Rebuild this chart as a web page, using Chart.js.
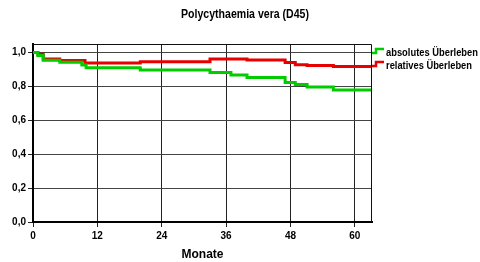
<!DOCTYPE html>
<html>
<head>
<meta charset="utf-8">
<script src="https://cdn.jsdelivr.net/npm/chart.js@4/dist/chart.umd.min.js"></script>
<style>
  html, body { margin: 0; padding: 0; background: #fff; }
  #wrap { width: 480px; height: 262px; }
</style>
</head>
<body>
<div id="wrap"><canvas id="kmChart" width="480" height="262"></canvas></div>
<script>
// Kaplan-Meier steps (months, survival)
const absTimes = [0, 0.9, 1.9, 5.0, 9.1, 9.9, 20.0, 33.0, 36.9, 39.9, 47.0, 48.9, 51.1, 56.0, 63.2];
const absValues = [1.0, 0.982, 0.954, 0.942, 0.926, 0.910, 0.897, 0.882, 0.867, 0.853, 0.823, 0.811, 0.796, 0.779, 0.779];

const relTimes = [0, 0.9, 1.9, 5.0, 9.7, 20.0, 33.0, 39.9, 47.0, 48.9, 51.1, 56.0, 63.2];
const relValues = [1.0, 0.99, 0.962, 0.952, 0.938, 0.946, 0.962, 0.956, 0.941, 0.928, 0.923, 0.917, 0.917];

const xTicks = [0, 12, 24, 36, 48, 60];
const yTicks = [0, 0.2, 0.4, 0.6, 0.8, 1.0];

const titleText = 'Polycythaemia vera (D45)';
const xTitle = 'Monate';
const seriesNames = ['absolutes Überleben', 'relatives Überleben'];
const GREEN = '#00cc00';
const RED = '#e80000';
const FONT = '"Liberation Sans", Arial, sans-serif';

function toPoints(xs, ys) {
    return xs.map(function (x, i) { return { x: x, y: ys[i] }; });
}

// the original uses a condensed face, so squeeze text to a given width
function narrowText(ctx, text, x, y, width, align) {
    const w = ctx.measureText(text).width;
    const s = Math.min(1, width / w);
    ctx.save();
    ctx.translate(x, y);
    ctx.scale(s, 1);
    ctx.textAlign = align;
    ctx.fillText(text, 0, 0);
    ctx.restore();
}

// title, frame and step-icon legend
const decorPlugin = {
    id: 'decor',
    afterDraw: function (chart) {
        const ctx = chart.ctx;
        const a = chart.chartArea;
        ctx.save();

        // frame top/right
        ctx.strokeStyle = '#111';
        ctx.lineWidth = 1;
        ctx.beginPath();
        ctx.moveTo(a.left, a.top + 0.5);
        ctx.lineTo(a.right - 0.5, a.top + 0.5);
        ctx.lineTo(a.right - 0.5, a.bottom);
        ctx.stroke();

        // title
        ctx.fillStyle = '#000';
        ctx.font = 'bold 12px ' + FONT;
        ctx.textBaseline = 'middle';
        narrowText(ctx, titleText, 245, 15, 128, 'center');

        // legend
        const items = [
            { color: GREEN, y: a.top + 9, label: seriesNames[0], w: 92 },
            { color: RED, y: a.top + 22, label: seriesNames[1], w: 86 }
        ];
        ctx.font = 'bold 11px ' + FONT;
        items.forEach(function (it) {
            const x0 = a.right;
            ctx.strokeStyle = it.color;
            ctx.lineWidth = 2.5;
            ctx.beginPath();
            ctx.moveTo(x0, it.y);
            ctx.lineTo(x0 + 4, it.y);
            ctx.lineTo(x0 + 4, it.y - 4);
            ctx.lineTo(x0 + 12, it.y - 4);
            ctx.stroke();
            ctx.fillStyle = '#000';
            narrowText(ctx, it.label, x0 + 14, it.y, it.w, 'left');
        });
        ctx.restore();
    }
};

new Chart(document.getElementById('kmChart'), {
    type: 'line',
    data: {
        datasets: [
            {
                label: seriesNames[0],
                data: toPoints(absTimes, absValues),
                borderColor: GREEN,
                borderWidth: 3,
                stepped: 'before',
                pointRadius: 0,
                fill: false
            },
            {
                label: seriesNames[1],
                data: toPoints(relTimes, relValues),
                borderColor: RED,
                borderWidth: 3,
                stepped: 'before',
                pointRadius: 0,
                fill: false
            }
        ]
    },
    options: {
        responsive: false,
        animation: false,
        layout: {
            padding: { top: 44, right: 108, left: 0, bottom: 0 }
        },
        plugins: {
            legend: { display: false },
            title: { display: false },
            tooltip: { enabled: false }
        },
        scales: {
            x: {
                type: 'linear',
                min: 0,
                max: 63.2,
                afterBuildTicks: function (scale) {
                    scale.ticks = xTicks.map(function (v) { return { value: v }; });
                },
                afterFit: function (scale) { scale.height = 40; },
                border: { color: '#000', width: 2 },
                grid: {
                    color: '#222',
                    lineWidth: 1,
                    tickLength: 5,
                    tickColor: '#222'
                },
                ticks: {
                    color: '#000',
                    padding: 3,
                    maxRotation: 0,
                    font: { family: FONT, size: 10, weight: 'bold' }
                },
                title: {
                    display: true,
                    text: xTitle,
                    color: '#000',
                    padding: { top: 0, bottom: 0 },
                    font: { family: FONT, size: 12, weight: 'bold' }
                }
            },
            y: {
                min: 0,
                max: 1.05,
                afterBuildTicks: function (scale) {
                    scale.ticks = yTicks.map(function (v) { return { value: v }; });
                },
                afterFit: function (scale) { scale.width = 33; },
                border: { color: '#000', width: 2 },
                grid: {
                    color: '#444',
                    lineWidth: 1,
                    tickLength: 5,
                    tickColor: '#222'
                },
                ticks: {
                    color: '#000',
                    padding: 2,
                    callback: function (v) { return v.toFixed(1).replace('.', ','); },
                    font: { family: FONT, size: 10, weight: 'bold' }
                }
            }
        }
    },
    plugins: [decorPlugin]
});
</script>
</body>
</html>
